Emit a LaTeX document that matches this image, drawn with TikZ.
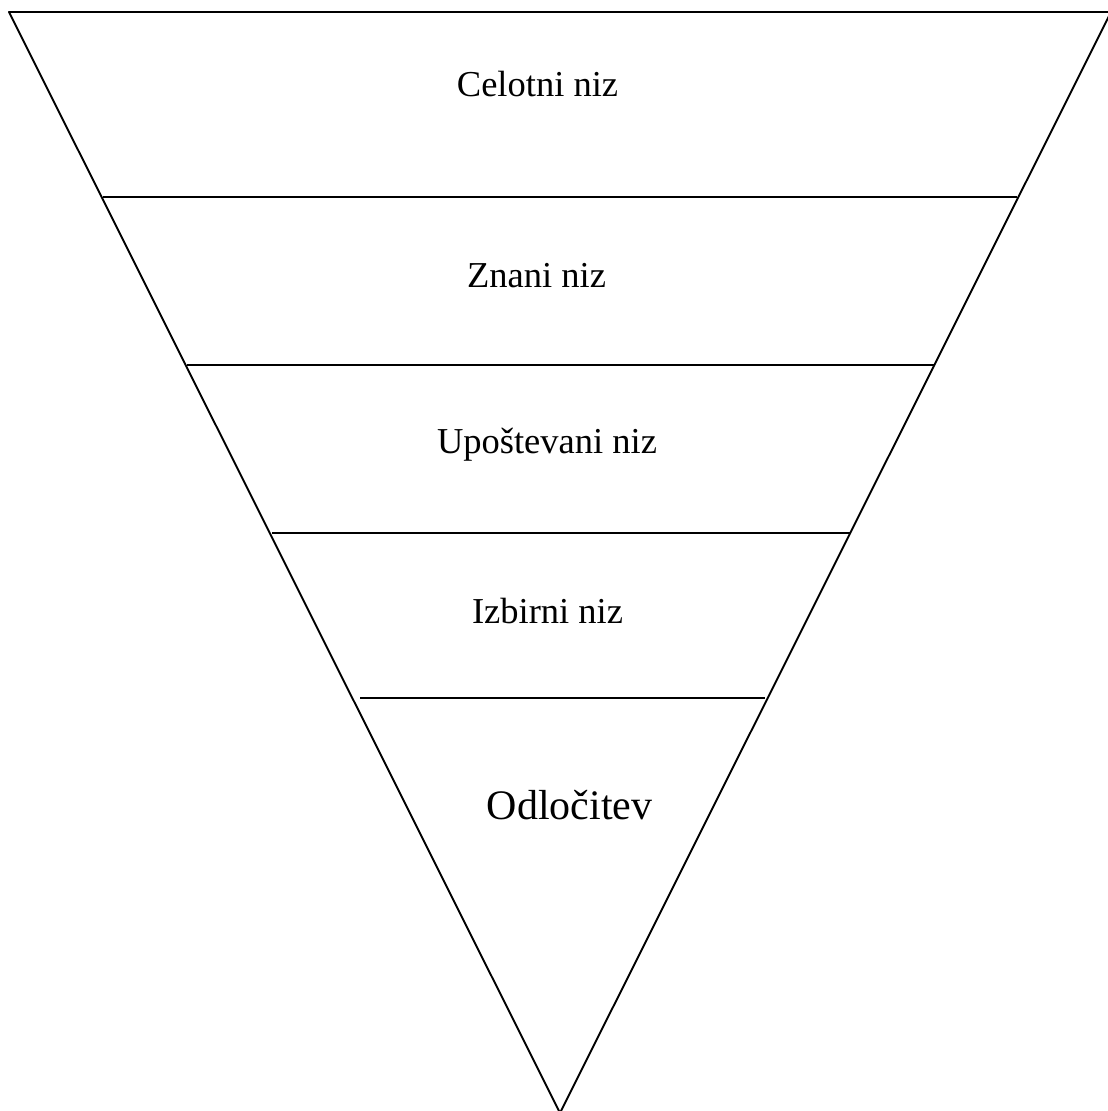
\documentclass[tikz,border=0pt]{standalone}
\usepackage{fontspec}
\setmainfont{Liberation Serif}
\begin{document}
\begin{tikzpicture}[x=1pt,y=-1pt,
  edge/.style={line width=1.9pt, line join=round},
  sep/.style={line width=1.9pt},
  lbl/.style={anchor=base, inner sep=0pt, font=\fontsize{36.5}{40}\selectfont},
  biglbl/.style={anchor=base, inner sep=0pt, font=\fontsize{42}{46}\selectfont}]
\useasboundingbox (0,0) rectangle (1108,1111);
\coordinate (tl) at (9,12);
\coordinate (tr) at (1111,12);
\coordinate (ap) at (560,1113);
\draw[edge] (tl) -- (tr) -- (ap) -- cycle;
\coordinate (a1) at (103,197); \coordinate (b1) at (1017,197);
\coordinate (a2) at (187,365); \coordinate (b2) at (935,365);
\coordinate (a3) at (272,533); \coordinate (b3) at (851,533);
\coordinate (a4) at (360,698); \coordinate (b4) at (765,698);
\draw[sep] (a1) -- (b1);
\draw[sep] (a2) -- (b2);
\draw[sep] (a3) -- (b3);
\draw[sep] (a4) -- (b4);
\node[lbl] (t1) at (537.5,96) {Celotni niz};
\node[lbl] (t2) at (536.5,287) {Znani niz};
\node[lbl] (t3) at (547,453) {Upoštevani niz};
\node[lbl] (t4) at (547.5,623) {Izbirni niz};
\node[biglbl] (t5) at (569.5,819) {Odločitev};
\end{tikzpicture}
\end{document}
